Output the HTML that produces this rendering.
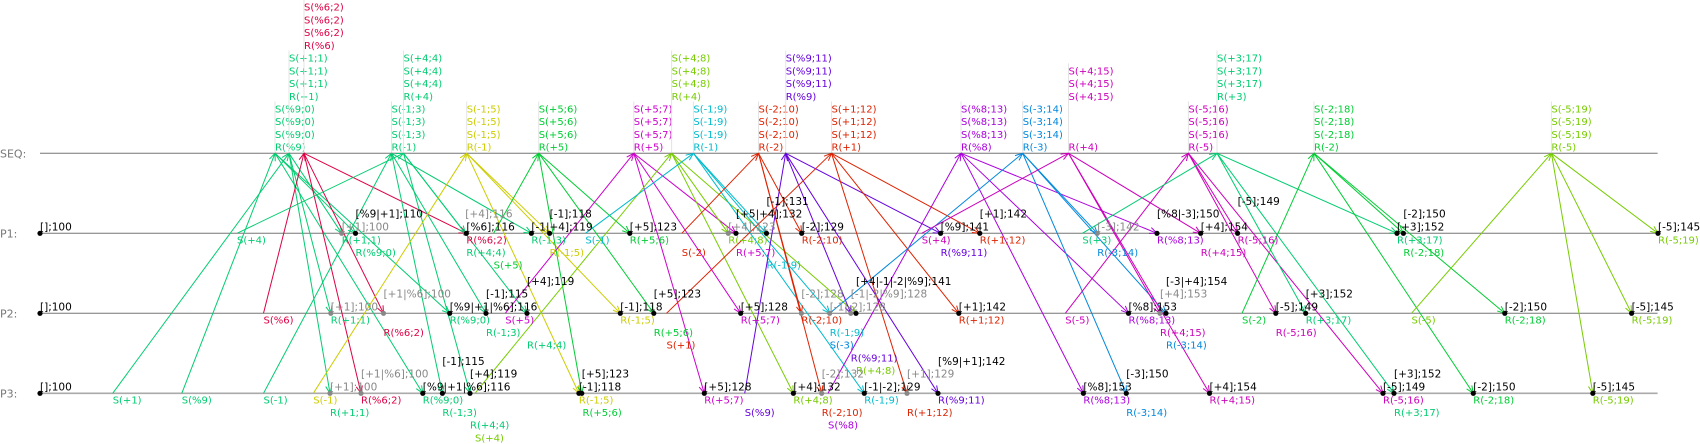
<!DOCTYPE html>
<html><head><meta charset="utf-8">
<style>
html,body{margin:0;padding:0;background:#fff;}
svg{display:block;font-family:"DejaVu Sans","Liberation Sans",sans-serif;font-size:10px;}
</style></head>
<body>
<svg id="chart" width="1700" height="444" viewBox="0 0 1700 444" xmlns="http://www.w3.org/2000/svg"></svg>
<script>
// Lanes
const laneNames = ["SEQ:", "P1:", "P2:", "P3:"];
const laneY = [153.3, 233.3, 313.3, 393.3];
// Message data
const msgLabels = ["%9","+1","%6","-1","+4","-1","+5","+5","+4","-1","-2","%9","+1","%8","-3","+4","-5","+3","-2","-5"];
const msgColors = ["#00cc70","#00cc70","#dd0044","#00cc70","#00cc70","#cccc00","#00cc33","#cc00cc","#77cc00","#00bbcc","#dd2200","#6600dd","#dd2200","#aa00dd","#0088dd","#cc00bb","#cc00bb","#00cc70","#00cc33","#77cc00"];
const msgSenderLane = [3,3,2,3,1,3,1,2,3,1,1,3,2,3,2,1,2,1,2,2];
const msgSendX = [181.8,112.7,263.5,263.5,237,313.3,493.6,505.3,475,585.4,681.8,744.7,666.5,828,829.7,921.7,1065.3,1082.4,1242,1411.5];
const msgSeqX = [275,289,304,391.5,403.5,466.7,538.7,633.8,671.6,693.4,758.5,785.7,831.5,961,1022.7,1068.5,1188.4,1217,1314,1551.4];
const msgRecvP1 = [355.5,341.7,466.4,531.4,465.3,549.6,629.8,736,728.3,766.5,801.7,940.6,979.8,1157,1097.3,1200.7,1237.6,1397,1403.4,1658];
const msgRecvP2 = [449.7,330.8,383.5,486,527,620.3,653.8,740.7,856,829.7,801.4,850.8,958.8,1128.5,1166,1160,1275.8,1305.7,1504.8,1631.6];
const msgRecvP3 = [422.8,330,361,442.4,470,578.9,581.8,704.3,793.4,864.3,821.7,938,907,1083.4,1126.3,1209.5,1383,1394,1473.3,1592.8];
const stackRRow = [0,4,8,0,4,0,0,0,4,0,0,4,0,0,0,0,0,4,0,0];
const stackSRow = [1,5,9,1,5,1,1,1,5,1,1,5,1,1,1,4,1,5,1,1];
// Lane events: lane, x, gray(1)/black(0), row(0 above, -1, -2 higher), text
const evLane = [1,1,1,1,1,1,1,1,1,1,1,1,1,1,1,1,1,1,1,1,1,1, 2,2,2,2,2,2,2,2,2,2,2,2,2,2,2,2,2,2,2,2,2, 3,3,3,3,3,3,3,3,3,3,3,3,3,3,3,3,3,3,3,3,3,3,3];
const evX = [40,341.7,355.5,465.3,466.4,531.4,549.6,629.8,728.3,736,766.5,801.7,940.6,979.8,1097.3,1157,1200.7,1237.6,1397,1403.4,1658,1658,
 40,330.8,383.5,449.7,486,527,620.3,653.8,740.7,801.4,829.7,850.8,856,958.8,1128.5,1160,1166,1275.8,1305.7,1504.8,1631.6,
 40,330,361,422.8,442.4,470,578.9,581.8,704.3,793.4,821.7,864.3,907,938,1083.4,1126.3,1209.5,1383,1394,1473.3,1592.8,1592.8,1592.8];
const evGray = [0,1,0,1,0,0,0,0,1,0,0,0,0,0,1,0,0,0,0,0,0,0, 0,1,1,0,0,0,0,0,0,1,1,1,0,0,0,1,0,0,0,0,0, 0,1,1,0,0,0,0,0,0,0,1,0,1,0,0,0,0,0,0,0,0,0,0];
const evRow = [0,0,-1,-1,0,0,-1,0,0,-1,-2,0,0,-1,0,-1,0,-2,0,-1,0,0, 0,0,-1,0,-1,-2,0,-1,0,-1,0,-1,-2,0,0,-1,-2,0,-1,0,0, 0,0,-1,0,-2,-1,0,-1,0,0,-1,0,-1,-2,0,-1,0,0,-1,0,0,0,0];
const evText = ["[];100","[+1];100","[%9|+1];110","[+4];116","[%6];116","[-1|+4];119","[-1];118","[+5];123","[+4];123","[+5|+4];132","[-1];131","[-2];129","[%9];141","[+1];142","[-3];142","[%8|-3];150","[+4];154","[-5];149","[+3];152","[-2];150","[-5];145","",
 "[];100","[+1];100","[+1|%6];100","[%9|+1|%6];116","[-1];115","[+4];119","[-1];118","[+5];123","[+5];128","[-2];128","[-1|-2];128","[-1|-2|%9];128","[+4|-1|-2|%9];141","[+1];142","[%8];153","[+4];153","[-3|+4];154","[-5];149","[+3];152","[-2];150","[-5];145",
 "[];100","[+1];100","[+1|%6];100","[%9|+1|%6];116","[-1];115","[+4];119","[-1];118","[+5];123","[+5];128","[+4];132","[-2];132","[-1|-2];129","[+1];129","[%9|+1];142","[%8];153","[-3];150","[+4];154","[-5];149","[+3];152","[-2];150","[-5];145","",""];
// Labels under lanes: lane, x, row, text, message index (for colour)
const lbLane = [1,1,1,1,1,1,1,1,1,1,1,1,1,1,1,1,1,1,1,1,1,1,1,1,1,1, 2,2,2,2,2,2,2,2,2,2,2,2,2,2,2,2,2,2,2,2,2,2,2,2,2,2,2, 3,3,3,3,3,3,3,3,3,3,3,3,3,3,3,3,3,3,3,3,3,3,3,3,3,3,3,3];
const lbX = [341.7,355.5,466.4,466.4,493.6,531.4,549.6,237,585.4,629.8,681.8,728.3,736,766.5,801.7,921.7,940.6,979.8,1082.4,1097.3,1157,1200.7,1237.6,1397,1403.4,1658,
 263.5,330.8,383.5,449.7,486,505.3,527,620.3,653.8,666.5,740.7,801.4,829.7,829.7,850.8,856,958.8,1065.3,1128.5,1160,1166,1242,1275.8,1305.7,1411.5,1504.8,1631.6,
 112.7,181.8,263.5,313.3,330,361,422.8,442.4,470,475,578.9,582.5,704.3,744.7,793.4,821.7,828,864.3,907,938,1083.4,1126.3,1209.5,1383,1394,1473.3,1592.8,1592.8];
const lbRow = [1,2,1,2,3,1,2,1,1,1,2,1,2,3,1,1,2,1,1,2,1,2,1,1,2,1,
 1,1,2,1,2,1,3,1,2,3,1,1,2,3,4,5,1,1,1,2,3,1,2,1,1,1,1,
 1,1,1,1,2,1,1,2,3,4,1,2,1,2,1,2,3,1,2,1,1,2,1,1,2,1,1,1];
const lbText = ["R(+1;1)","R(%9;0)","R(%6;2)","R(+4;4)","S(+5)","R(-1;3)","R(-1;5)","S(+4)","S(-1)","R(+5;6)","S(-2)","R(+4;8)","R(+5;7)","R(-1;9)","R(-2;10)","S(+4)","R(%9;11)","R(+1;12)","S(+3)","R(-3;14)","R(%8;13)","R(+4;15)","R(-5;16)","R(+3;17)","R(-2;18)","R(-5;19)",
 "S(%6)","R(+1;1)","R(%6;2)","R(%9;0)","R(-1;3)","S(+5)","R(+4;4)","R(-1;5)","R(+5;6)","S(+1)","R(+5;7)","R(-2;10)","R(-1;9)","S(-3)","R(%9;11)","R(+4;8)","R(+1;12)","S(-5)","R(%8;13)","R(+4;15)","R(-3;14)","S(-2)","R(-5;16)","R(+3;17)","S(-5)","R(-2;18)","R(-5;19)",
 "S(+1)","S(%9)","S(-1)","S(-1)","R(+1;1)","R(%6;2)","R(%9;0)","R(-1;3)","R(+4;4)","S(+4)","R(-1;5)","R(+5;6)","R(+5;7)","S(%9)","R(+4;8)","R(-2;10)","S(%8)","R(-1;9)","R(+1;12)","R(%9;11)","R(%8;13)","R(-3;14)","R(+4;15)","R(-5;16)","R(+3;17)","R(-2;18)","R(-5;19)",""];
const lbMsg = [1,0,2,4,6,3,5,4,9,6,10,8,7,9,10,15,11,12,17,14,13,15,16,17,18,19,
 2,1,2,0,3,7,4,5,6,12,7,10,9,14,11,8,12,16,13,15,14,18,16,17,19,18,19,
 1,0,3,5,1,2,0,3,4,8,5,6,7,11,8,10,13,9,12,11,13,14,15,16,17,18,19,19];

const NS = "http://www.w3.org/2000/svg";
const svg = document.getElementById("chart");
function mk(tag, attrs, parent) {
  const e = document.createElementNS(NS, tag);
  for (const k in attrs) e.setAttribute(k, attrs[k]);
  (parent || svg).appendChild(e);
  return e;
}
const LX0 = 40, LX1 = 1657.6;
function rowY(k) { return 146.7 - 12.73 * k; }
function laneAboveY(lane, row) { return laneY[lane] - 6.7 + 12.9 * row; }
function laneBelowY(lane, row) { return laneY[lane] + 6 + 12.7 * (row - 1); }

// lanes
laneNames.forEach((n, i) => {
  const t = mk("text", {x: 0, y: laneY[i] + 4, fill: "#777", "font-size": "11"});
  t.textContent = n;
  
  
  const l = mk("line", {x1: LX0, y1: laneY[i], x2: LX1, y2: laneY[i], stroke: i === 3 ? "#aaa" : "#777", "stroke-width": i === 3 ? 1.6 : 1});
  
  
});

// stacks on SEQ
msgLabels.forEach((lab, i) => {
  const x = msgSeqX[i], c = msgColors[i];
  const top = rowY(stackSRow[i] + 2) - 7;
  const g = mk("g", {});
  
  
  mk("line", {x1: x, y1: top, x2: x, y2: laneY[0], stroke: "#e4e4e4", "stroke-width": 1}, g);
  for (let r = 0; r < 3; r++) {
    const t = mk("text", {x: x, y: rowY(stackSRow[i] + r) + 4, fill: c}, g);
    t.textContent = "S(" + lab + ";" + i + ")";
  }
  const t = mk("text", {x: x, y: rowY(stackRRow[i]) + 4, fill: c}, g);
  t.textContent = "R(" + lab + ")";
});

// arrows
function arrow(x1, y1, x2, y2, c, name) {
  const g = mk("g", {stroke: c, "stroke-width": 1, fill: "none"});
  
  
  mk("line", {x1, y1, x2, y2}, g);
  const a = Math.atan2(y2 - y1, x2 - x1), L = 8, w = 0.4;
  mk("polyline", {points: `${x2 - L*Math.cos(a-w)},${y2 - L*Math.sin(a-w)} ${x2},${y2} ${x2 - L*Math.cos(a+w)},${y2 - L*Math.sin(a+w)}`}, g);
}
msgLabels.forEach((lab, i) => {
  const c = msgColors[i];
  arrow(msgSendX[i], laneY[msgSenderLane[i]], msgSeqX[i], laneY[0], c, 'send-arrow-' + i);
  arrow(msgSeqX[i], laneY[0], msgRecvP1[i], laneY[1], c, 'recv-arrow-p1-' + i);
  arrow(msgSeqX[i], laneY[0], msgRecvP2[i], laneY[2], c, 'recv-arrow-p2-' + i);
  arrow(msgSeqX[i], laneY[0], msgRecvP3[i], laneY[3], c, 'recv-arrow-p3-' + i);
});

// lane labels below
lbText.forEach((txt, i) => {
  if (!txt) return;
  const y = laneBelowY(lbLane[i], lbRow[i]);
  const t = mk("text", {x: lbX[i], y: y + 4, fill: msgColors[lbMsg[i]]});
  t.textContent = txt;
  
  
});

// events
evText.forEach((txt, i) => {
  if (!txt) return;
  const lane = evLane[i], x = evX[i], gray = evGray[i];
  const d = mk("circle", {cx: x, cy: laneY[lane], r: 2.6, fill: gray ? "#888" : "#000"});
  
  
  const t = mk("text", {x: x, y: laneAboveY(lane, evRow[i]) + 4, fill: gray ? "#888" : "#000", "font-size": "10.5"});
  t.textContent = txt;
  
  
});
</script>
</body></html>
